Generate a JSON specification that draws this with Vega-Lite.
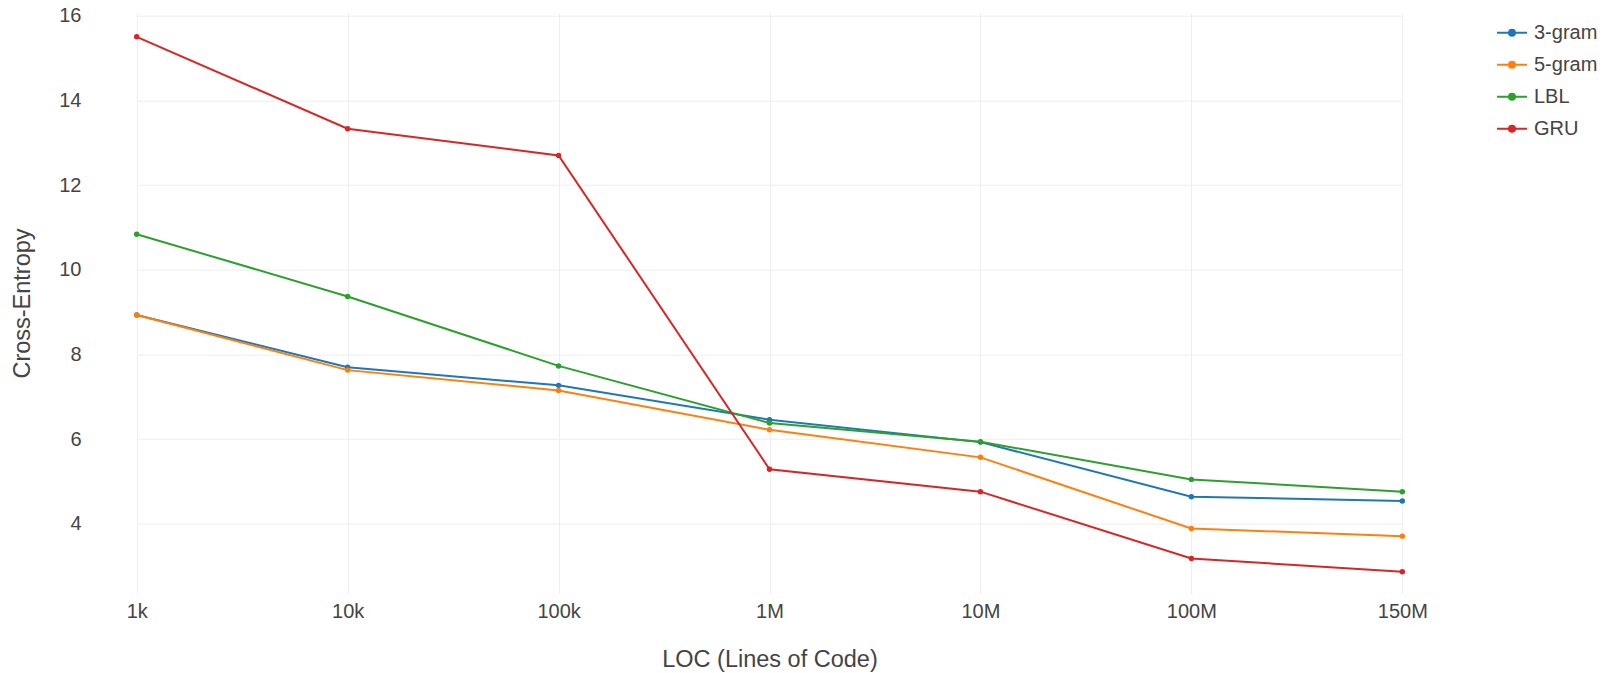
{
  "$schema": "https://vega.github.io/schema/vega-lite/v6.json",
  "autosize": "none",
  "width": 1380,
  "height": 580.6,
  "padding": {"left": 83, "top": 12.7, "right": 141, "bottom": 79.7},
  "background": "white",
  "config": {
    "view": {"stroke": null},
    "font": "Liberation Sans",
    "axis": {"labelColor": "#444", "titleColor": "#444", "titleFontWeight": "normal", "gridColor": "#eeeeee", "gridWidth": 1, "domain": false, "ticks": false}
  },
  "data": {
    "values": [
      {"series": "3-gram", "loc": "1k", "value": 8.93},
      {"series": "3-gram", "loc": "10k", "value": 7.70},
      {"series": "3-gram", "loc": "100k", "value": 7.27},
      {"series": "3-gram", "loc": "1M", "value": 6.46},
      {"series": "3-gram", "loc": "10M", "value": 5.93},
      {"series": "3-gram", "loc": "100M", "value": 4.64},
      {"series": "3-gram", "loc": "150M", "value": 4.54},
      {"series": "5-gram", "loc": "1k", "value": 8.93},
      {"series": "5-gram", "loc": "10k", "value": 7.63},
      {"series": "5-gram", "loc": "100k", "value": 7.15},
      {"series": "5-gram", "loc": "1M", "value": 6.22},
      {"series": "5-gram", "loc": "10M", "value": 5.57},
      {"series": "5-gram", "loc": "100M", "value": 3.89},
      {"series": "5-gram", "loc": "150M", "value": 3.71},
      {"series": "LBL", "loc": "1k", "value": 10.84},
      {"series": "LBL", "loc": "10k", "value": 9.37},
      {"series": "LBL", "loc": "100k", "value": 7.73},
      {"series": "LBL", "loc": "1M", "value": 6.38},
      {"series": "LBL", "loc": "10M", "value": 5.94},
      {"series": "LBL", "loc": "100M", "value": 5.05},
      {"series": "LBL", "loc": "150M", "value": 4.76},
      {"series": "GRU", "loc": "1k", "value": 15.50},
      {"series": "GRU", "loc": "10k", "value": 13.33},
      {"series": "GRU", "loc": "100k", "value": 12.70},
      {"series": "GRU", "loc": "1M", "value": 5.29},
      {"series": "GRU", "loc": "10M", "value": 4.76},
      {"series": "GRU", "loc": "100M", "value": 3.18},
      {"series": "GRU", "loc": "150M", "value": 2.87}
    ]
  },
  "encoding": {
    "x": {
      "field": "loc", "type": "ordinal",
      "sort": ["1k", "10k", "100k", "1M", "10M", "100M", "150M"],
      "scale": {"type": "point", "range": [53.7, 1319.3], "padding": 0},
      "axis": {"title": "LOC (Lines of Code)", "labelAngle": 0, "labelFontSize": 20, "titleFontSize": 23.5, "labelPadding": 8, "titlePadding": 26, "grid": true}
    },
    "y": {
      "field": "value", "type": "quantitative",
      "scale": {"domain": [2.36, 16.07], "nice": false, "zero": false},
      "axis": {"title": "Cross-Entropy", "values": [4, 6, 8, 10, 12, 14, 16], "labelFontSize": 20, "titleFontSize": 23.5, "labelPadding": 2, "titlePadding": 24}
    },
    "color": {
      "field": "series", "type": "nominal",
      "scale": {"domain": ["3-gram", "5-gram", "LBL", "GRU"], "range": ["#1f77b4", "#ff7f0e", "#2ca02c", "#d62728"]},
      "legend": {
        "title": null,
        "orient": "none",
        "legendX": 1413,
        "legendY": 4,
        "labelFontSize": 20,
        "labelColor": "#444",
        "symbolType": "M -1 0 L 1 0 M 0.2 0 A 0.2 0.2 0 1 1 -0.2 0 A 0.2 0.2 0 1 1 0.2 0 Z",
        "symbolSize": 900,
        "symbolStrokeWidth": 2,
        "labelOffset": 6,
        "rowPadding": 6,
        "encode": {"symbols": {"update": {"fill": {"scale": "color", "field": "value"}, "fillOpacity": {"value": 1}}}}
      }
    }
  },
  "layer": [
    {"mark": {"type": "line", "strokeWidth": 2}},
    {"mark": {"type": "point", "filled": true, "size": 30, "opacity": 1}}
  ]
}
